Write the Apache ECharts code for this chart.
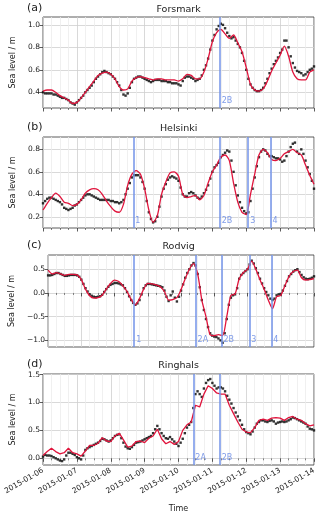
<!DOCTYPE html>
<html>
<head>
<meta charset="utf-8">
<script src="https://cdn.jsdelivr.net/npm/echarts@6/dist/echarts.min.js"></script>
<style>
html, body { margin: 0; padding: 0; background: #fff; }
#chart { width: 320px; height: 518px; }
</style>
</head>
<body>
<div id="chart"></div>
<script>
// observations every 1.5 h, model every 3 h, from 2015-01-06 00:00 to 2015-01-14 00:00 (UTC)
const startTime = Date.UTC(2015, 0, 6);
const endTime = Date.UTC(2015, 0, 14);
const DAY = 86400000;
const OBS_STEP = 1.5 * 3600000;
const MODEL_STEP = 3 * 3600000;

const stationNames = ["Forsmark", "Helsinki", "Rodvig", "Ringhals"];
const panelLetters = ["(a)", "(b)", "(c)", "(d)"];

const forsmarkObs = [
    0.40,0.39,0.39,0.39,0.39,0.38,0.38,0.37,0.36,0.35,0.35,0.34,0.33,0.31,0.30,0.29,
    0.31,0.33,0.35,0.37,0.40,0.42,0.44,0.46,0.49,0.52,0.54,0.56,0.58,0.59,0.58,0.57,
    0.56,0.54,0.52,0.49,0.46,0.42,0.38,0.37,0.39,0.44,0.49,0.52,0.53,0.54,0.54,0.53,
    0.52,0.51,0.50,0.49,0.50,0.51,0.51,0.51,0.50,0.50,0.50,0.49,0.49,0.48,0.48,0.48,
    0.47,0.46,0.50,0.53,0.54,0.54,0.53,0.52,0.50,0.51,0.52,0.55,0.60,0.64,0.70,0.78,
    0.86,0.91,0.96,0.99,1.01,1.00,0.97,0.93,0.90,0.88,0.89,0.86,0.83,0.80,0.75,0.68,
    0.60,0.52,0.47,0.44,0.42,0.41,0.41,0.42,0.44,0.48,0.52,0.57,0.61,0.65,0.68,0.71,
    0.75,0.78,0.86,0.86,0.80,0.72,0.66,0.62,0.59,0.58,0.57,0.55,0.56,0.58,0.60,0.61,
    0.63];
const forsmarkModel = [0.41,0.42,0.42,0.40,0.37,0.35,0.33,0.30,0.31,0.35,0.40,0.45,0.50,0.55,0.57,0.58,0.56,0.52,0.45,0.42,0.43,0.50,0.53,0.54,0.53,0.52,0.51,0.52,0.52,0.51,0.51,0.51,0.50,0.52,0.56,0.55,0.52,0.52,0.58,0.70,0.85,0.93,0.96,0.92,0.88,0.91,0.84,0.76,0.62,0.47,0.42,0.41,0.43,0.50,0.59,0.66,0.73,0.81,0.72,0.58,0.52,0.51,0.51,0.58,0.60];

const helsinkiObs = [
    0.32,0.34,0.36,0.37,0.37,0.36,0.35,0.34,0.33,0.31,0.28,0.27,0.26,0.27,0.28,0.30,
    0.31,0.33,0.35,0.37,0.39,0.40,0.40,0.39,0.38,0.37,0.36,0.35,0.35,0.35,0.35,0.35,
    0.34,0.34,0.33,0.33,0.32,0.33,0.35,0.40,0.45,0.50,0.55,0.57,0.57,0.57,0.55,0.51,
    0.45,0.34,0.24,0.18,0.15,0.16,0.20,0.29,0.38,0.45,0.49,0.53,0.55,0.56,0.55,0.54,
    0.52,0.46,0.40,0.38,0.38,0.41,0.42,0.41,0.39,0.37,0.36,0.38,0.41,0.44,0.48,0.54,
    0.60,0.64,0.66,0.68,0.73,0.75,0.77,0.79,0.78,0.70,0.60,0.48,0.39,0.33,0.28,0.25,
    0.23,0.24,0.34,0.45,0.55,0.65,0.73,0.78,0.80,0.79,0.76,0.74,0.74,0.73,0.72,0.72,
    0.71,0.69,0.70,0.74,0.78,0.82,0.85,0.86,0.78,0.76,0.80,0.76,0.70,0.64,0.58,0.52,
    0.45];
const helsinkiModel = [0.26,0.32,0.37,0.41,0.38,0.33,0.32,0.30,0.31,0.35,0.41,0.44,0.45,0.44,0.40,0.34,0.29,0.25,0.24,0.31,0.48,0.58,0.61,0.58,0.45,0.26,0.15,0.21,0.40,0.51,0.59,0.60,0.56,0.40,0.37,0.38,0.39,0.35,0.39,0.50,0.60,0.66,0.73,0.75,0.70,0.50,0.33,0.24,0.22,0.40,0.58,0.75,0.80,0.77,0.71,0.70,0.72,0.76,0.78,0.80,0.77,0.75,0.66,0.57,0.49];

const rodvigObs = [
    0.37,0.37,0.38,0.40,0.42,0.42,0.40,0.38,0.36,0.36,0.37,0.38,0.38,0.38,0.37,0.34,
    0.28,0.19,0.10,0.03,-0.03,-0.06,-0.08,-0.09,-0.08,-0.07,-0.04,0.02,0.08,0.13,0.17,0.19,
    0.21,0.21,0.20,0.18,0.16,0.10,0.02,-0.07,-0.15,-0.21,-0.25,-0.22,-0.15,-0.03,0.10,0.16,
    0.19,0.19,0.18,0.17,0.16,0.15,0.14,0.12,0.05,-0.08,-0.17,-0.05,0.03,-0.10,-0.18,-0.08,
    0.05,0.18,0.32,0.42,0.50,0.58,0.63,0.58,0.40,0.12,-0.15,-0.36,-0.55,-0.72,-0.85,-0.90,
    -0.92,-0.93,-0.96,-1.00,-1.05,-0.85,-0.55,-0.25,-0.10,-0.05,-0.03,0.10,0.30,0.38,0.42,0.46,
    0.50,0.60,0.68,0.62,0.52,0.42,0.30,0.20,0.10,0.02,-0.05,-0.12,-0.15,-0.12,-0.05,-0.03,
    -0.02,0.05,0.15,0.25,0.35,0.40,0.45,0.48,0.50,0.44,0.38,0.33,0.30,0.29,0.30,0.32,
    0.35];
const rodvigModel = [0.48,0.40,0.43,0.40,0.37,0.39,0.39,0.38,0.28,0.08,-0.06,-0.11,-0.10,-0.05,0.08,0.20,0.27,0.24,0.15,0.03,-0.14,-0.25,-0.12,0.08,0.20,0.19,0.17,0.13,0.03,-0.15,-0.14,-0.10,0.07,0.30,0.50,0.62,0.40,-0.15,-0.50,-0.88,-0.90,-0.88,-0.90,-0.50,-0.05,-0.02,0.30,0.43,0.50,0.67,0.50,0.28,0.08,-0.15,-0.33,-0.08,-0.05,0.15,0.35,0.45,0.48,0.32,0.27,0.28,0.30];

const ringhalsObs = [
    0.03,0.06,0.05,0.05,0.04,0.02,0.00,-0.02,-0.04,-0.05,-0.02,0.05,0.10,0.10,0.08,0.06,
    0.02,0.00,-0.02,0.05,0.15,0.18,0.20,0.22,0.24,0.26,0.28,0.31,0.35,0.34,0.32,0.30,
    0.32,0.36,0.40,0.42,0.43,0.36,0.28,0.21,0.18,0.17,0.20,0.24,0.28,0.29,0.30,0.32,
    0.34,0.36,0.38,0.40,0.45,0.52,0.58,0.52,0.45,0.40,0.36,0.35,0.38,0.34,0.30,0.26,
    0.22,0.28,0.35,0.45,0.55,0.60,0.65,0.90,1.15,1.20,1.15,1.10,1.25,1.35,1.40,1.42,
    1.35,1.30,1.25,1.27,1.27,1.25,1.20,1.12,1.05,0.98,0.90,0.82,0.75,0.68,0.60,0.52,
    0.47,0.45,0.43,0.48,0.55,0.62,0.65,0.68,0.68,0.66,0.65,0.67,0.68,0.66,0.62,0.64,
    0.65,0.66,0.65,0.66,0.68,0.70,0.73,0.72,0.70,0.68,0.66,0.64,0.62,0.57,0.53,0.52,
    0.50];
const ringhalsModel = [0.05,0.12,0.18,0.12,0.08,0.10,0.18,0.10,0.08,0.04,0.13,0.23,0.23,0.27,0.37,0.31,0.30,0.40,0.45,0.33,0.20,0.22,0.30,0.31,0.28,0.36,0.40,0.52,0.35,0.26,0.30,0.25,0.30,0.50,0.60,0.65,0.95,0.92,1.15,1.30,1.25,1.17,1.15,1.15,0.95,0.80,0.65,0.52,0.47,0.46,0.55,0.68,0.70,0.68,0.72,0.73,0.72,0.68,0.73,0.75,0.70,0.68,0.62,0.58,0.60];

// y ranges and tick values
const yMins = [0.26, 0.10, -1.14, -0.12];
const yMaxs = [1.07, 0.91, 0.80, 1.51];
const forsmarkTicks = [0.4, 0.6, 0.8, 1.0];
const helsinkiTicks = [0.2, 0.4, 0.6, 0.8];
const rodvigTicks = [-1.0, -0.5, 0.0, 0.5];
const ringhalsTicks = [0.0, 0.5, 1.0, 1.5];

// event markers
const forsmarkEvents = ["2015-01-11T05:10Z"];
const forsmarkEventLabels = ["2B"];
const helsinkiEvents = ["2015-01-08T16:00Z", "2015-01-11T05:10Z", "2015-01-12T01:20Z", "2015-01-12T17:10Z"];
const helsinkiEventLabels = ["1", "2B", "3", "4"];
const rodvigEvents = ["2015-01-08T14:10Z", "2015-01-10T10:30Z", "2015-01-11T05:10Z", "2015-01-12T01:20Z", "2015-01-12T17:10Z"];
const rodvigEventLabels = ["1", "2A", "2B", "3", "4"];
const ringhalsEvents = ["2015-01-10T10:30Z", "2015-01-11T05:10Z"];
const ringhalsEventLabels = ["2A", "2B"];

const obsSeries = [forsmarkObs, helsinkiObs, rodvigObs, ringhalsObs];
const modelSeries = [forsmarkModel, helsinkiModel, rodvigModel, ringhalsModel];
const yTicks = [forsmarkTicks, helsinkiTicks, rodvigTicks, ringhalsTicks];
const eventTimes = [forsmarkEvents, helsinkiEvents, rodvigEvents, ringhalsEvents];
const eventLabels = [forsmarkEventLabels, helsinkiEventLabels, rodvigEventLabels, ringhalsEventLabels];

const gridTops = [17, 137, 255, 374];
const gridHeights = [91, 91, 92, 91];
const titleYs = [10, 129, 247, 366];
const modelSmooth = [0.25, 0.25, 0.25, 0];

const FONT = "DejaVu Sans";
const TEXT = "#222";
const EVENT_COLOR = "#7393e8";
const EVENT_TEXT = "#5f82e2";
const MODEL_COLOR = "#e0143c";

const chart = echarts.init(document.getElementById("chart"));

const toXY = (arr, step) => arr.map((v, k) => [startTime + k * step, v]);

const grids = [], xAxes = [], yAxes = [], series = [], graphics = [];

for (let i = 0; i < 4; i++) {
    grids.push({
        left: 43, width: 271, top: gridTops[i], height: gridHeights[i],
        show: true, borderColor: "#333", borderWidth: 0.8,
    });

    xAxes.push({
        type: "value",
        gridIndex: i,
        min: startTime,
        max: endTime,
        interval: DAY,
        axisLine: { show: false },
        axisTick: { show: true, length: 3.5, lineStyle: { color: "#333", width: 0.8 } },
        minorTick: { show: true, splitNumber: 4, length: 2, lineStyle: { color: "#333", width: 0.6 } },
        splitLine: { show: true, lineStyle: { color: "#cfcfcf", width: 0.8 } },
        minorSplitLine: { show: true, lineStyle: { color: "#ececec", width: 0.8 } },
        axisLabel: {
            show: i === 3,
            rotate: 30,
            margin: 5,
            fontSize: 7.5,
            fontFamily: FONT,
            color: TEXT,
            formatter: v => new Date(v).toISOString().slice(0, 10),
        },
        name: i === 3 ? "Time" : "",
        nameLocation: "middle",
        nameGap: 40,
        nameTextStyle: { fontSize: 8, fontFamily: FONT, color: TEXT },
    });

    yAxes.push({
        type: "value",
        gridIndex: i,
        min: yMins[i],
        max: yMaxs[i],
        axisLine: { show: false },
        axisTick: { show: true, length: 3.5, customValues: yTicks[i], lineStyle: { color: "#333", width: 0.8 } },
        axisLabel: {
            customValues: yTicks[i],
            margin: 3,
            fontSize: 7.5,
            fontFamily: FONT,
            color: TEXT,
            formatter: v => v.toFixed(1).replace("-", "\u2212"),
        },
        splitLine: { show: true, lineStyle: { color: "#cfcfcf", width: 0.8 } },
        name: "Sea level / m",
        nameLocation: "middle",
        nameGap: 26,
        nameTextStyle: { fontSize: 8, fontFamily: FONT, color: TEXT },
    });

    const evX = eventTimes[i].map(t => Date.parse(t));
    series.push({
        type: "scatter",
        xAxisIndex: i, yAxisIndex: i,
        symbolSize: 0,
        z: 1,
        data: evX.map((x, k) => ({ value: [x, yMins[i]], name: eventLabels[i][k] })),
        label: {
            show: true, formatter: "{b}", position: "right", distance: 2, offset: [0, -7],
            fontSize: 8, fontFamily: FONT, color: EVENT_TEXT,
        },
        markLine: {
            silent: true,
            symbol: "none",
            label: { show: false },
            lineStyle: { color: EVENT_COLOR, width: 1.5, type: "solid" },
            data: evX.map(x => ({ xAxis: x })),
        },
    });

    series.push({
        type: "scatter",
        xAxisIndex: i, yAxisIndex: i,
        symbol: "rect",
        symbolSize: 2.4,
        itemStyle: { color: "#000" },
        z: 2,
        data: toXY(obsSeries[i], OBS_STEP),
    });

    series.push({
        type: "line",
        xAxisIndex: i, yAxisIndex: i,
        showSymbol: false,
        smooth: modelSmooth[i],
        z: 3,
        lineStyle: { color: MODEL_COLOR, width: 1.3 },
        data: toXY(modelSeries[i], MODEL_STEP),
    });

    graphics.push({
        type: "text", left: 27, top: titleYs[i] - 7,
        style: { text: panelLetters[i], fontSize: 11, fontFamily: FONT, fill: TEXT },
    });
    graphics.push({
        type: "text", x: 178.6, y: titleYs[i],
        style: { text: stationNames[i], fontSize: 9.5, fontFamily: FONT, fill: TEXT, textAlign: "center", textVerticalAlign: "middle" },
    });
}

chart.setOption({
    animation: false,
    grid: grids,
    xAxis: xAxes,
    yAxis: yAxes,
    series: series,
    graphic: graphics,
});
</script>
</body>
</html>
